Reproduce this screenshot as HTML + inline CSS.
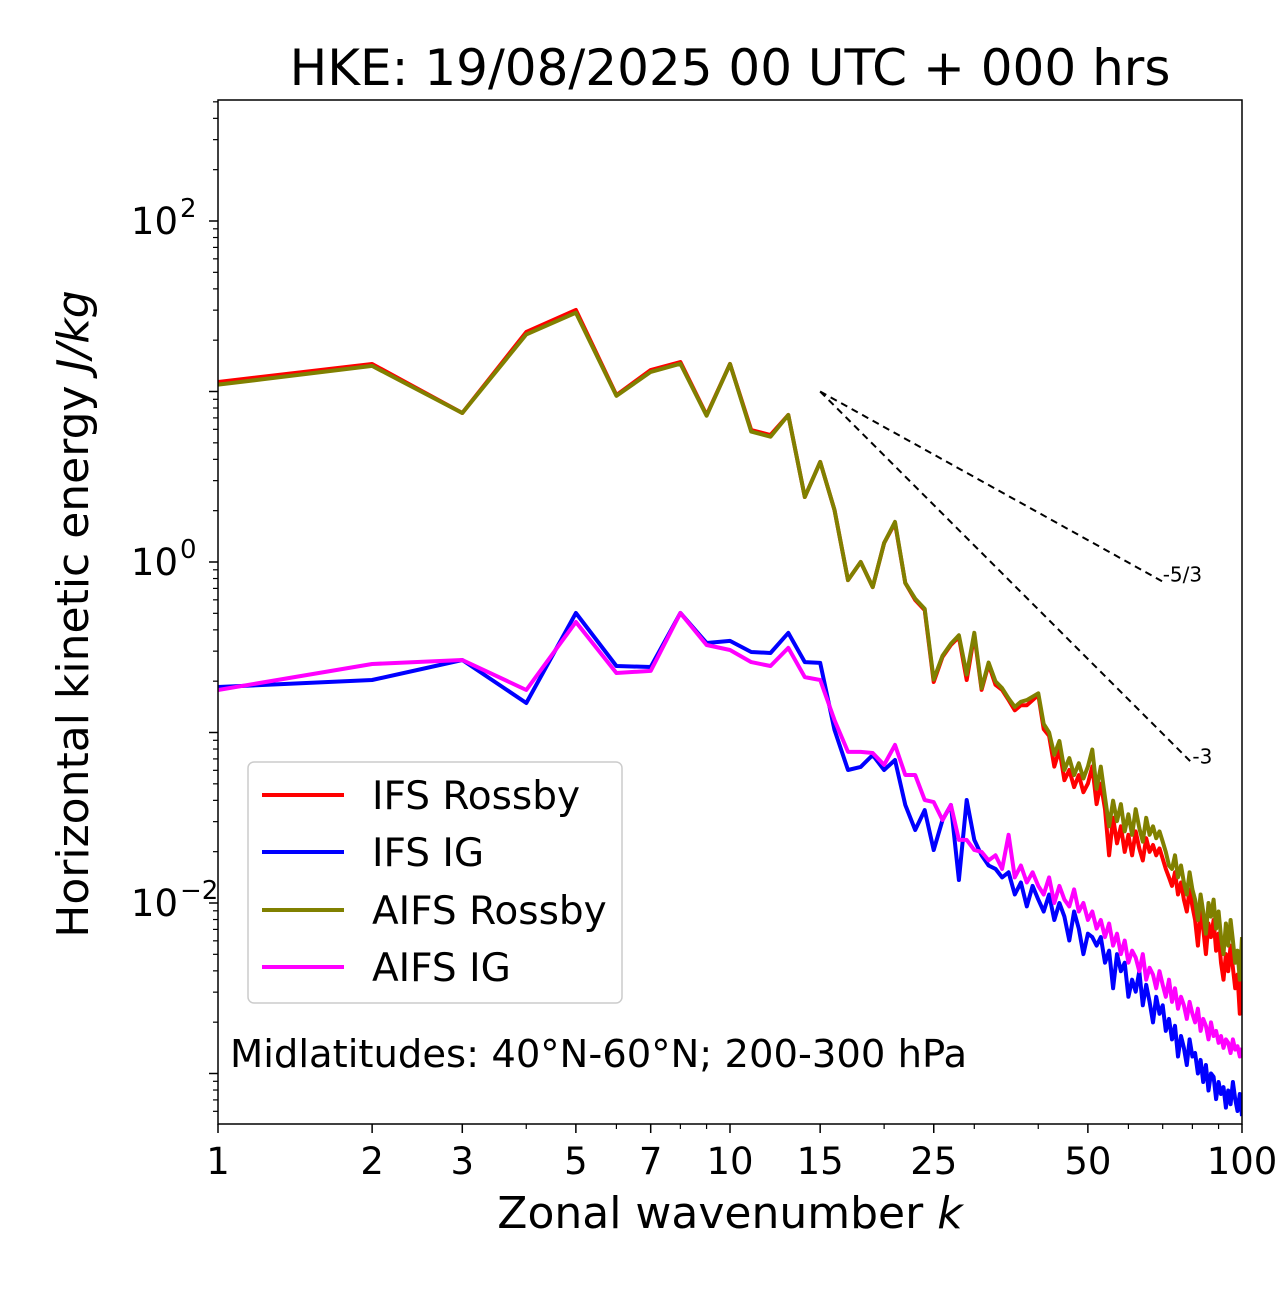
<!DOCTYPE html>
<html><head><meta charset="utf-8"><style>
body{margin:0;background:#fff;}
svg text{font-family:"DejaVu Sans","Liberation Sans",sans-serif;}
</style></head><body>
<svg id="chart" width="1280" height="1288" viewBox="0 0 1280 1288" xmlns="http://www.w3.org/2000/svg">
<rect width="1280" height="1288" fill="#fff"/>
<text x="730" y="85" font-size="50" text-anchor="middle">HKE: 19/08/2025 00 UTC + 000 hrs</text>
<g id="series" clip-path="url(#clip)"></g>
<g id="axes"></g>
<defs><clipPath id="clip"><rect x="218" y="100" width="1024" height="1024"/></clipPath></defs>
</svg>
<script>
const ifsRossby=[1.056,1.161,0.874,1.349,1.478,0.979,1.126,1.173,0.862,1.161,0.774,0.745,0.862,0.381,0.587,0.305,-0.106,0,-0.147,0.111,0.229,-0.123,-0.223,-0.282,-0.704,-0.557,-0.487,-0.44,-0.692,-0.428,
-0.75,-0.60,-0.72,-0.75,-0.81,-0.87,-0.84,-0.84,-0.81,-0.78,-0.98,-1.02,-1.20,-1.10,-1.28,-1.22,-1.32,-1.25,-1.35,-1.30,-1.20,-1.42,-1.30,-1.45,-1.72,-1.50,-1.65,-1.55,-1.70,-1.60,-1.72,-1.58,-1.68,-1.75,-1.62,-1.70,-1.66,-1.72,-1.68,-1.74,-1.80,-1.85,-1.90,-1.82,-1.95,-1.88,-1.98,-2.05,-1.92,-2.02,-2.10,-2.25,-2.05,-2.15,-2.30,-2.12,-2.20,-2.10,-2.28,-2.18,-2.35,-2.45,-2.30,-2.40,-2.25,-2.38,-2.50,-2.42,-2.65,-2.35];
const aifsRossby=[1.04,1.15,0.874,1.335,1.462,0.975,1.115,1.163,0.858,1.161,0.765,0.735,0.862,0.381,0.587,0.305,-0.106,0,-0.147,0.111,0.235,-0.123,-0.215,-0.275,-0.690,-0.550,-0.480,-0.43,-0.660,-0.415,
-0.74,-0.59,-0.70,-0.74,-0.80,-0.85,-0.82,-0.81,-0.79,-0.77,-0.95,-1.00,-1.13,-1.05,-1.22,-1.15,-1.25,-1.18,-1.27,-1.20,-1.10,-1.33,-1.20,-1.38,-1.55,-1.40,-1.52,-1.42,-1.58,-1.48,-1.60,-1.45,-1.56,-1.64,-1.50,-1.60,-1.55,-1.62,-1.58,-1.64,-1.70,-1.78,-1.80,-1.72,-1.85,-1.78,-1.88,-1.95,-1.82,-1.92,-1.98,-2.10,-1.95,-2.05,-2.18,-2.00,-2.08,-1.98,-2.15,-2.05,-2.20,-2.30,-2.12,-2.25,-2.10,-2.22,-2.35,-2.28,-2.45,-2.20];
const ifsIG=[-0.733,-0.692,-0.575,-0.827,-0.299,-0.61,-0.616,-0.299,-0.475,-0.463,-0.528,-0.534,-0.416,-0.587,-0.592,-0.985,-1.22,-1.202,-1.132,-1.22,-1.161,-1.425,-1.572,-1.455,-1.689,-1.513,-1.425,-1.865,-1.396,-1.63,
-1.72,-1.78,-1.80,-1.85,-1.82,-1.95,-1.88,-2.02,-1.90,-1.98,-2.05,-1.95,-2.10,-2.00,-2.08,-2.22,-2.05,-2.15,-2.30,-2.18,-2.20,-2.25,-2.20,-2.35,-2.28,-2.50,-2.30,-2.40,-2.35,-2.55,-2.45,-2.52,-2.40,-2.60,-2.48,-2.58,-2.70,-2.55,-2.65,-2.60,-2.75,-2.68,-2.80,-2.72,-2.90,-2.78,-2.85,-2.95,-2.80,-2.90,-2.88,-3.00,-2.92,-3.05,-2.95,-3.10,-3.00,-3.02,-3.15,-3.05,-3.12,-3.08,-3.20,-3.10,-3.18,-3.05,-3.15,-3.22,-3.12,-3.25];
const aifsIG=[-0.751,-0.598,-0.575,-0.751,-0.352,-0.651,-0.639,-0.299,-0.487,-0.516,-0.587,-0.61,-0.504,-0.675,-0.692,-0.927,-1.114,-1.114,-1.12,-1.19,-1.073,-1.249,-1.249,-1.396,-1.408,-1.513,-1.425,-1.63,-1.63,-1.689,
-1.70,-1.75,-1.72,-1.80,-1.60,-1.85,-1.78,-1.88,-1.82,-1.90,-1.95,-1.85,-2.00,-1.90,-1.98,-2.02,-1.92,-2.05,-2.00,-2.10,-2.05,-2.15,-2.10,-2.20,-2.12,-2.25,-2.18,-2.30,-2.22,-2.35,-2.28,-2.32,-2.40,-2.30,-2.45,-2.38,-2.42,-2.50,-2.40,-2.48,-2.55,-2.45,-2.58,-2.50,-2.62,-2.55,-2.60,-2.68,-2.58,-2.65,-2.70,-2.62,-2.75,-2.68,-2.72,-2.80,-2.70,-2.78,-2.75,-2.82,-2.78,-2.85,-2.80,-2.82,-2.88,-2.80,-2.86,-2.84,-2.90,-2.85];
const xMajorTicks=[1,2,3,5,7,10,15,25,50,100];
const xMinorTicks=[4,6,8,9,20,30,40,60,70,80,90];
const yMajorTicks=[-2,0,2];
const ns="http://www.w3.org/2000/svg";
const X0=218,X1=1242,Y0=100,Y1=1124;
function xs(k){return X0+512*Math.log10(k);}
function ys(lg){return 221+(2-lg)*170.5;}
function mk(tag,attrs,parent){const e=document.createElementNS(ns,tag);for(const a in attrs)e.setAttribute(a,attrs[a]);parent.appendChild(e);return e;}
const S=document.getElementById('series'),A=document.getElementById('axes');
const series=[[ifsRossby,'#ff0000','ifs-rossby-line'],[ifsIG,'#0000ff','ifs-ig-line'],[aifsRossby,'#808000','aifs-rossby-line'],[aifsIG,'#ff00ff','aifs-ig-line']];
series.forEach(s=>{
 const d=s[0].map((v,i)=>(i?'L':'M')+xs(i+1).toFixed(1)+','+ys(v).toFixed(1)).join('');
 const p=mk('path',{d:d,fill:'none',stroke:s[1],'stroke-width':4,'stroke-linejoin':'round'},S);
 
 
});
const refs=[[5/3,70,'-5/3','slope-minus-5-3'],[3,80,'-3','slope-minus-3']];
const k0=15,l0=1.0;
refs.forEach(r=>{
 const l1=l0-r[0]*Math.log10(r[1]/k0);
 const ln=mk('line',{x1:xs(k0),y1:ys(l0),x2:xs(r[1]),y2:ys(l1),stroke:'#000','stroke-width':2,'stroke-dasharray':'7,5'},A);
 
 
 const t=mk('text',{x:xs(r[1]),y:ys(l1),'font-size':20},A);t.textContent=r[2];
 
 
});
const fr=mk('rect',{x:X0,y:Y0,width:X1-X0,height:Y1-Y0,fill:'none',stroke:'#000','stroke-width':1.5},A);


xMajorTicks.forEach(k=>{
 mk('line',{x1:xs(k),y1:Y1,x2:xs(k),y2:Y1+9,stroke:'#000','stroke-width':1.5},A);
 const t=mk('text',{x:xs(k),y:Y1+50,'font-size':37,'text-anchor':'middle'},A);t.textContent=k;
 
 
});
xMinorTicks.forEach(k=>mk('line',{x1:xs(k),y1:Y1,x2:xs(k),y2:Y1+5,stroke:'#000','stroke-width':1.2},A));
for(let d=-4;d<=2;d++){for(let m=1;m<10;m++){const lg=d+Math.log10(m);const y=ys(lg);if(y<Y0||y>Y1)continue;mk('line',{x1:X0,y1:y,x2:X0-(m==1?9:5),y2:y,stroke:'#000','stroke-width':m==1?1.5:1.2},A);}}
yMajorTicks.forEach(lg=>{
 const t=mk('text',{x:X0-40,y:ys(lg)+13,'font-size':37,'text-anchor':'end'},A);t.textContent='10';
 
 
 const e=mk('text',{x:X0-38,y:ys(lg)-4,'font-size':26},A);e.textContent=lg<0?'\u2212'+(-lg):lg;
});
</script>
<svg style="position:absolute;left:0;top:0" width="1280" height="1288" xmlns="http://www.w3.org/2000/svg">
<text x="730" y="1228" font-size="44" text-anchor="middle" font-family="DejaVu Sans, Liberation Sans, sans-serif">Zonal wavenumber <tspan font-style="italic">k</tspan></text>
<text transform="translate(88,614) rotate(-90)" font-size="44" text-anchor="middle" font-family="DejaVu Sans, Liberation Sans, sans-serif">Horizontal kinetic energy <tspan font-style="italic">J/kg</tspan></text>
<g font-family="DejaVu Sans, Liberation Sans, sans-serif" font-size="39">
<rect x="248" y="762" width="374" height="241" rx="6" fill="#fff" fill-opacity="0.8" stroke="#ccc" stroke-width="1.5"/>
<line x1="262" y1="795" x2="344" y2="795" stroke="#ff0000" stroke-width="4"/><text x="372" y="809">IFS Rossby</text>
<line x1="262" y1="852" x2="344" y2="852" stroke="#0000ff" stroke-width="4"/><text x="372" y="866">IFS IG</text>
<line x1="262" y1="910" x2="344" y2="910" stroke="#808000" stroke-width="4"/><text x="372" y="924">AIFS Rossby</text>
<line x1="262" y1="967" x2="344" y2="967" stroke="#ff00ff" stroke-width="4"/><text x="372" y="981">AIFS IG</text>
</g>
<text x="230" y="1067" font-size="38.5" font-family="DejaVu Sans, Liberation Sans, sans-serif">Midlatitudes: 40°N-60°N; 200-300 hPa</text>
</svg>
</body></html>
